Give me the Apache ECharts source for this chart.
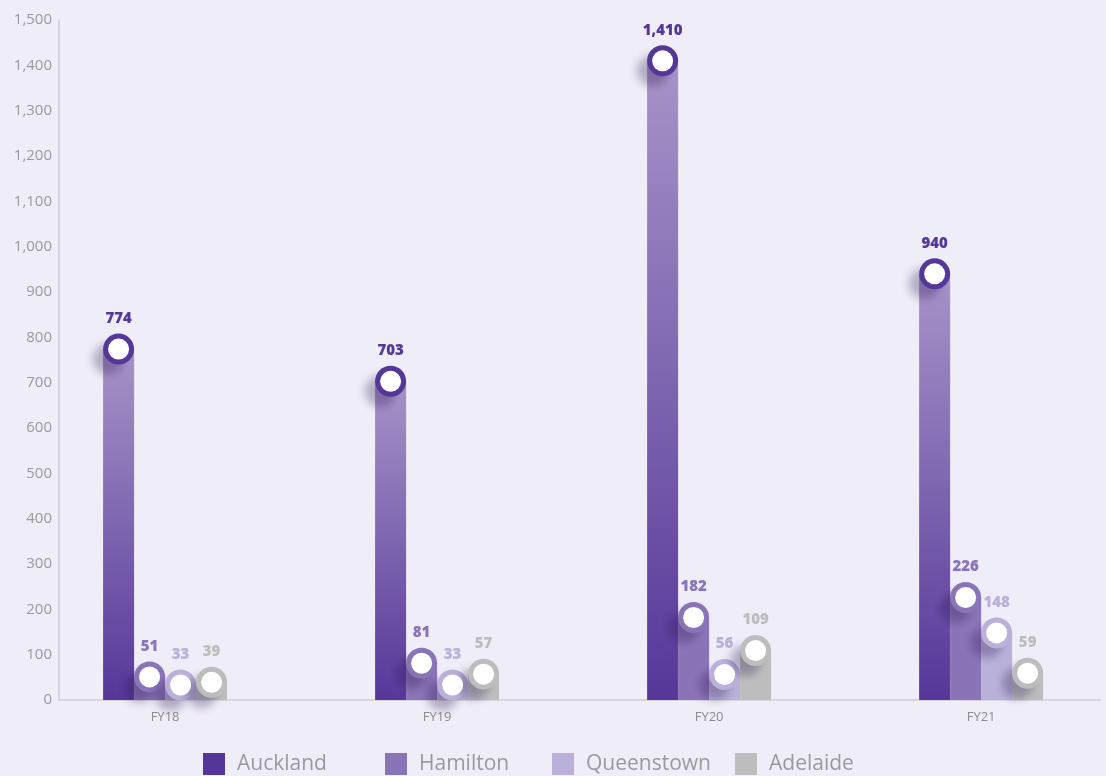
<!DOCTYPE html>
<html>
<head>
<meta charset="utf-8">
<script src="https://cdn.jsdelivr.net/npm/echarts@6/dist/echarts.min.js"></script>
<style>
html,body{margin:0;padding:0;background:#efedf7;}
#chart{width:1106px;height:776px;}
</style>
</head>
<body>
<div id="chart"></div>
<script>
const categories = ['FY18', 'FY19', 'FY20', 'FY21'];
const seriesNames = ['Auckland', 'Hamilton', 'Queenstown', 'Adelaide'];
const auckland   = [774, 703, 1410, 940];
const hamilton   = [51, 81, 182, 226];
const queenstown = [33, 33, 56, 148];
const adelaide   = [39, 57, 109, 59];
const yTicks = {min: 0, max: 1500, interval: 100};

const FONT = "'Open Sans', sans-serif";
const colors = {
  Auckland: '#55379a',
  Hamilton: '#8a74b8',
  Queenstown: '#bab0d9',
  Adelaide: '#bdbdbd'
};
const legendLeft = {Auckland: 198, Hamilton: 380, Queenstown: 547, Adelaide: 730};

function makeSeries(name, values, barColor) {
  return {
    name: name,
    type: 'bar',
    barWidth: 31,
    barGap: '0%',
    data: values.map((v, i) => [i, v]),
    itemStyle: {color: barColor},
    emphasis: {disabled: true},
    markPoint: {
      symbol: 'circle',
      symbolSize: 31,
      itemStyle: {
        color: colors[name],
        shadowColor: 'rgba(40,20,80,0.30)',
        shadowBlur: 9,
        shadowOffsetX: -10,
        shadowOffsetY: 10
      },
      label: {
        show: true,
        position: 'inside',
        formatter: p => '{num|' + Number(p.value).toLocaleString('en-US') + '}\n{dot| }\n{sp| }',
        rich: {
          num: {color: colors[name], fontFamily: FONT, fontWeight: 800, fontSize: 15, lineHeight: 40, align: 'center'},
          dot: {backgroundColor: '#ffffff', width: 21, height: 21, borderRadius: 10.5, lineHeight: 21, align: 'center'},
          sp: {lineHeight: 40, fontSize: 1}
        }
      },
      data: values.map((v, i) => ({coord: [i, v], value: v}))
    }
  };
}

const chart = echarts.init(document.getElementById('chart'));
chart.setOption({
  backgroundColor: '#efedf7',
  animation: false,
  grid: {left: 59, right: 6, top: 20, bottom: 76, containLabel: false},
  legend: seriesNames.map(n => ({
    data: [{name: n, itemStyle: {color: colors[n]}}],
    left: legendLeft[n],
    top: 748,
    icon: 'rect',
    itemWidth: 22,
    itemHeight: 22,
    selectedMode: false,
    textStyle: {color: '#9a9a9e', fontSize: 21, fontFamily: FONT, padding: [0, 0, 0, 7]}
  })),
  xAxis: {
    type: 'value',
    min: -0.39,
    max: 3.437,
    splitLine: {show: false},
    axisTick: {show: false},
    axisLine: {show: true, onZero: false, lineStyle: {color: '#cfcdd6', width: 1.5}},
    axisLabel: {
      customValues: [0, 1, 2, 3],
      formatter: v => categories[Math.round(v)],
      color: '#8c8c8c',
      fontSize: 13,
      fontFamily: FONT,
      margin: 11
    }
  },
  yAxis: {
    type: 'value',
    min: yTicks.min,
    max: yTicks.max,
    interval: yTicks.interval,
    splitLine: {show: false},
    axisTick: {show: false},
    axisLine: {show: true, onZero: false, lineStyle: {color: '#cfcdd6', width: 1.5}},
    axisLabel: {
      color: '#9a9a9e',
      fontSize: 15,
      fontFamily: FONT,
      margin: 7,
      formatter: v => v.toLocaleString('en-US')
    }
  },
  series: [
    makeSeries('Auckland', auckland, new echarts.graphic.LinearGradient(0, 0, 0, 1, [
      {offset: 0, color: '#a694c8'},
      {offset: 1, color: '#563799'}
    ])),
    makeSeries('Hamilton', hamilton, colors.Hamilton),
    makeSeries('Queenstown', queenstown, colors.Queenstown),
    makeSeries('Adelaide', adelaide, colors.Adelaide)
  ]
});
</script>
</body>
</html>
